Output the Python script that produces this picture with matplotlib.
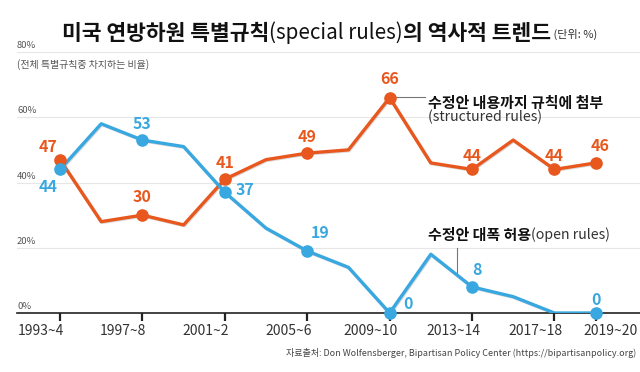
import matplotlib
matplotlib.use("Agg")
import matplotlib.pyplot as plt
import matplotlib.patheffects as pe

plt.rcParams['font.family'] = ['Noto Sans CJK KR', 'DejaVu Sans']

# Congress index (1993~4 .. 2019~20), two-year steps
congress = list(range(14))
structured = [47, 28, 30, 27, 41, 47, 49, 50, 66, 46, 44, 53, 44, 46]
open_rules = [44, 58, 53, 51, 37, 26, 19, 14, 0, 18, 8, 5, 0, 0]
tick_pos = [0, 2, 4, 6, 8, 10, 12, 13]
tick_labels = ["1993~4", "1997~8", "2001~2", "2005~6", "2009~10", "2013~14", "2017~18", "2019~20"]
# points that carry a value label: (index, dx px, dy px)
s_labels = [(0, -12, 13), (2, 0, 18), (4, 0, 16), (6, 0, 16),
            (8, 0, 19), (10, 0, 13), (12, 0, 13), (13, 4, 17)]
o_labels = [(0, -12, -18), (2, 0, 16), (4, 20, 2), (6, 13, 18),
            (8, 18, 9), (10, 5, 17), (13, 0, 13)]

ORG = "#e8581e"; BLU = "#3aa8e0"; GRY = "#555555"; GRID_C = "#e6e6e6"

W, H = 640, 372
fig = plt.figure(figsize=(6.4, 3.72), dpi=100)
ax = fig.add_axes([17 / W, 1 - 313 / H, 1 - 17 / W, (313 - 52) / H])
x0 = 60; step = 41.2
xl = (17 - x0) / step
ax.set_xlim(xl, (640 - x0) / step)
ax.set_ylim(0, 80)
for s in ("top", "right", "left"):
    ax.spines[s].set_visible(False)
ax.spines["bottom"].set_color("#222"); ax.spines["bottom"].set_linewidth(1.2)
ax.set_yticks([])
for v in (20, 40, 60, 80):
    ax.axhline(v, color=GRID_C, lw=0.8, zorder=0)
for v in (0, 20, 40, 60, 80):
    ax.text(xl, v + 0.6, f"{v}%", fontsize=6.8, color=GRY, va="bottom", ha="left")
ax.text(xl, 77.8, "(전체 특별규칙중 차지하는 비율)", fontsize=7.2, color=GRY, va="top", ha="left")

ax.set_xticks(tick_pos)
ax.set_xticklabels([])
ax.tick_params(axis="x", direction="out", length=6, width=1.6, color="#222")
xt = ax.get_xaxis_transform()
for p, lab in zip(tick_pos, tick_labels):
    if lab == "2019~20":
        ax.text((583 - x0) / step, -0.07, lab, transform=xt, fontsize=10, color="#333",
                ha="left", va="center", clip_on=False)
    else:
        ax.text(p - 19 / step, -0.07, lab, transform=xt, fontsize=10, color="#333",
                ha="center", va="center")

shadow = [pe.SimpleLineShadow(offset=(0.6, -0.6), alpha=0.15), pe.Normal()]
ax.plot(congress, structured, color=ORG, lw=2.4, zorder=3, path_effects=shadow)
ax.plot(congress, open_rules, color=BLU, lw=2.4, zorder=4, path_effects=shadow)
sx = [i for i, _, _ in s_labels]
ax.scatter(sx, [structured[i] for i in sx], s=65, color=ORG, zorder=5, clip_on=False)
ox = [i for i, _, _ in o_labels]
ax.scatter(ox, [open_rules[i] for i in ox], s=65, color=BLU, zorder=6, clip_on=False)

for i, dx, dy in s_labels:
    ax.annotate(str(structured[i]), (i, structured[i]), xytext=(dx * 0.72, dy * 0.72),
                textcoords="offset points", ha="center", va="center",
                fontsize=11.5, color=ORG, fontweight="bold")
for i, dx, dy in o_labels:
    ax.annotate(str(open_rules[i]), (i, open_rules[i]), xytext=(dx * 0.72, dy * 0.72),
                textcoords="offset points", ha="center", va="center",
                fontsize=11.5, color=BLU, fontweight="bold")

# series annotations
ax.plot([8.15, 8.85], [66.2, 66.2], color="#777", lw=0.8, zorder=2)
ax.text(8.93, 64.4, "수정안 내용까지 규칙에 첨부", fontsize=10.8, fontweight="bold", color="#111", va="center")
ax.text(8.93, 60.0, "(structured rules)", fontsize=10.2, color="#333", va="center")
ax.plot([9.64, 9.64], [11.6, 20], color="#777", lw=0.8, zorder=2)
t1 = ax.text(8.93, 23.9, "수정안 대폭 허용", fontsize=10.8, fontweight="bold", color="#111", va="center")
ax.annotate("(open rules)", xy=(1, 0.5), xycoords=t1, fontsize=10.2, color="#333", va="center")

# title, built from pieces of different weight
ta = fig.text(62 / W, 1 - 33 / H, "미국 연방하원 특별규칙", fontsize=15.5, fontweight="bold",
              color="#111", va="center")
t2 = ax.annotate("(special rules)", xy=(1, 0.5), xycoords=ta, fontsize=14.8, fontweight="light",
                 color="#111", va="center", annotation_clip=False)
t3 = ax.annotate("의 역사적 트렌드", xy=(1, 0.5), xycoords=t2, fontsize=15.5, fontweight="bold",
                 color="#111", va="center", annotation_clip=False)
ax.annotate(" (단위: %)", xy=(1, 0.42), xycoords=t3, fontsize=8, color="#333", va="center",
            annotation_clip=False)

fig.text(636 / W, 1 - 353 / H,
         "자료출처: Don Wolfensberger, Bipartisan Policy Center (https://bipartisanpolicy.org)",
         fontsize=6.5, color="#444", ha="right", va="center")

fig.savefig("out.png", dpi=100, facecolor="white")
